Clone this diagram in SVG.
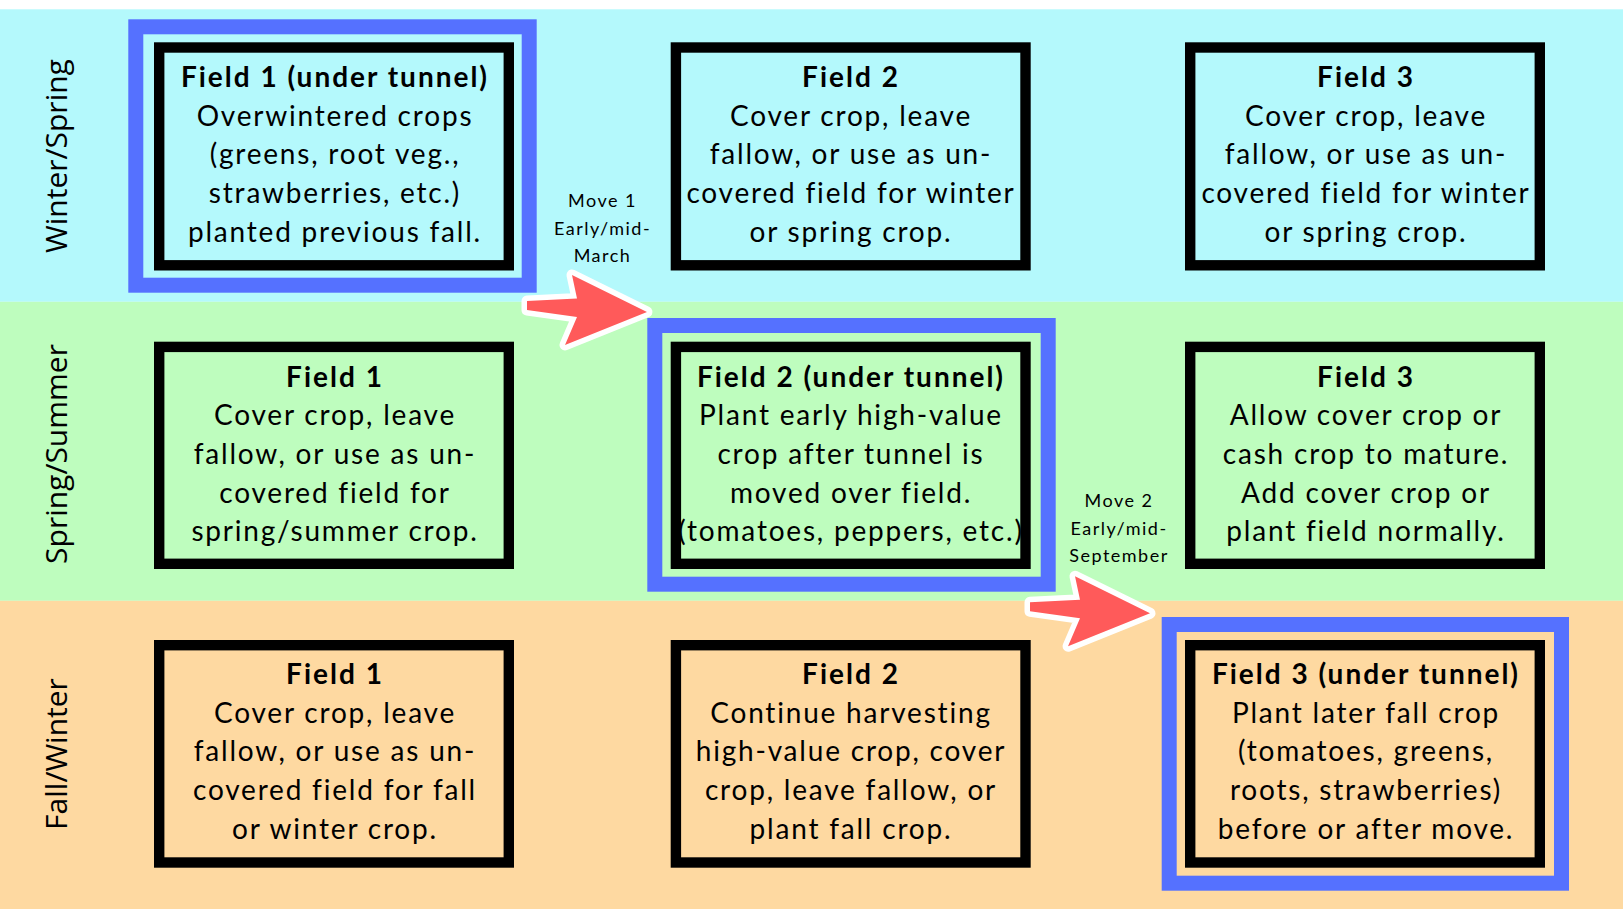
<svg xmlns="http://www.w3.org/2000/svg" width="1623" height="909" viewBox="0 0 1623 909">
<style>
.cy{fill:#B4F9FC}.gr{fill:#BEFDBE}.or{fill:#FED9A1}
.hl{fill:none;stroke:#5571FF;stroke-width:15}
.bx{stroke:#000;stroke-width:10.4}
.t{font-family:Lato,"Liberation Sans",sans-serif;font-size:28px;fill:#000;text-anchor:middle;letter-spacing:1.8px}
.h{font-weight:bold;letter-spacing:2px}
.side{font-family:"Open Sans","Liberation Sans",sans-serif;font-size:30px;fill:#000;text-anchor:middle}
.mv{font-family:Lato,"Liberation Sans",sans-serif;font-size:18px;fill:#000;text-anchor:middle;letter-spacing:1.5px}
.arr{fill:#FF5A5A;stroke:#fff;stroke-width:11;stroke-linejoin:round;paint-order:stroke}
</style>
<defs>
<polygon id="arrowShape" points="527,301 577,298.5 572,275 647,312 565,345 577,317 527,310"/>
</defs>
<rect x="0" y="0" width="1623" height="909" fill="#fff"/>
<rect class="cy" x="0" y="9.3" width="1623" height="292.5"/>
<rect class="gr" x="0" y="301.8" width="1623" height="299"/>
<rect class="or" x="0" y="600.8" width="1623" height="308.2"/>

<g id="season-labels">
<text class="side" transform="translate(67,156) rotate(-90)">Winter/Spring</text>
<text class="side" transform="translate(67,454) rotate(-90)">Spring/Summer</text>
<text class="side" transform="translate(67,754) rotate(-90)">Fall/Winter</text>
</g>

<g id="r1c1">
<rect class="hl" x="135.8" y="26.8" width="393.4" height="258.4"/>
<rect class="bx cy" x="159.2" y="47.5" width="349.6" height="217.8"/>
<text class="t" x="335" y="87"><tspan class="h" x="335">Field 1 (under tunnel)</tspan><tspan x="335" dy="38.7">Overwintered crops</tspan><tspan x="335" dy="38.7">(greens, root veg.,</tspan><tspan x="335" dy="38.7">strawberries, etc.)</tspan><tspan x="335" dy="38.7">planted previous fall.</tspan></text>
</g>
<g id="r1c2">
<rect class="bx cy" x="675.9" y="47.5" width="349.6" height="217.8"/>
<text class="t" x="851" y="87"><tspan class="h" x="851">Field 2</tspan><tspan x="851" dy="38.7">Cover crop, leave</tspan><tspan x="851" dy="38.7">fallow, or use as un-</tspan><tspan x="851" dy="38.7">covered field for winter</tspan><tspan x="851" dy="38.7">or spring crop.</tspan></text>
</g>
<g id="r1c3">
<rect class="bx cy" x="1190.2" y="47.5" width="349.6" height="217.8"/>
<text class="t" x="1366" y="87"><tspan class="h" x="1366">Field 3</tspan><tspan x="1366" dy="38.7">Cover crop, leave</tspan><tspan x="1366" dy="38.7">fallow, or use as un-</tspan><tspan x="1366" dy="38.7">covered field for winter</tspan><tspan x="1366" dy="38.7">or spring crop.</tspan></text>
</g>

<g id="r2c1">
<rect class="bx gr" x="159.2" y="346.9" width="349.6" height="216.9"/>
<text class="t" x="335" y="386.5"><tspan class="h" x="335">Field 1</tspan><tspan x="335" dy="38.7">Cover crop, leave</tspan><tspan x="335" dy="38.7">fallow, or use as un-</tspan><tspan x="335" dy="38.7">covered field for</tspan><tspan x="335" dy="38.7">spring/summer crop.</tspan></text>
</g>
<g id="r2c2">
<rect class="hl" x="654.8" y="325.5" width="393.4" height="258.7"/>
<rect class="bx gr" x="675.9" y="346.9" width="349.6" height="216.9"/>
<text class="t" x="851" y="386.5"><tspan class="h" x="851">Field 2 (under tunnel)</tspan><tspan x="851" dy="38.7">Plant early high-value</tspan><tspan x="851" dy="38.7">crop after tunnel is</tspan><tspan x="851" dy="38.7">moved over field.</tspan><tspan x="851" dy="38.7">(tomatoes, peppers, etc.)</tspan></text>
</g>
<g id="r2c3">
<rect class="bx gr" x="1190.2" y="346.9" width="349.6" height="216.9"/>
<text class="t" x="1366" y="386.5"><tspan class="h" x="1366">Field 3</tspan><tspan x="1366" dy="38.7">Allow cover crop or</tspan><tspan x="1366" dy="38.7">cash crop to mature.</tspan><tspan x="1366" dy="38.7">Add cover crop or</tspan><tspan x="1366" dy="38.7">plant field normally.</tspan></text>
</g>

<g id="r3c1">
<rect class="bx or" x="159.2" y="645.2" width="349.6" height="217.3"/>
<text class="t" x="335" y="684"><tspan class="h" x="335">Field 1</tspan><tspan x="335" dy="38.7">Cover crop, leave</tspan><tspan x="335" dy="38.7">fallow, or use as un-</tspan><tspan x="335" dy="38.7">covered field for fall</tspan><tspan x="335" dy="38.7">or winter crop.</tspan></text>
</g>
<g id="r3c2">
<rect class="bx or" x="675.9" y="645.2" width="349.6" height="217.3"/>
<text class="t" x="851" y="684"><tspan class="h" x="851">Field 2</tspan><tspan x="851" dy="38.7">Continue harvesting</tspan><tspan x="851" dy="38.7">high-value crop, cover</tspan><tspan x="851" dy="38.7">crop, leave fallow, or</tspan><tspan x="851" dy="38.7">plant fall crop.</tspan></text>
</g>
<g id="r3c3">
<rect class="hl" x="1169.2" y="624.5" width="392.3" height="258.7"/>
<rect class="bx or" x="1190.2" y="645.2" width="349.6" height="217.3"/>
<text class="t" x="1366" y="684"><tspan class="h" x="1366">Field 3 (under tunnel)</tspan><tspan x="1366" dy="38.7">Plant later fall crop</tspan><tspan x="1366" dy="38.7">(tomatoes, greens,</tspan><tspan x="1366" dy="38.7">roots, strawberries)</tspan><tspan x="1366" dy="38.7">before or after move.</tspan></text>
</g>

<g id="connectors">
<use href="#arrowShape" class="arr"/>
<use href="#arrowShape" class="arr" transform="translate(503,301.3)"/>
<text class="mv" x="602.5" y="207.3"><tspan x="602.5">Move 1</tspan><tspan x="602.5" dy="27.2">Early/mid-</tspan><tspan x="602.5" dy="27.2">March</tspan></text>
<text class="mv" x="1119" y="507.3"><tspan x="1119">Move 2</tspan><tspan x="1119" dy="27.2">Early/mid-</tspan><tspan x="1119" dy="27.2">September</tspan></text>
</g>
</svg>
